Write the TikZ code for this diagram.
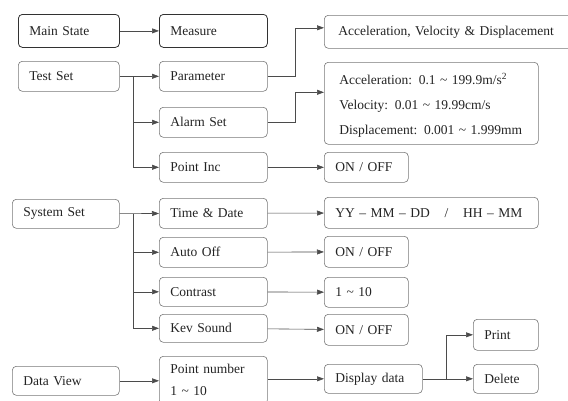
\documentclass[tikz,border=0pt]{standalone}
\usepackage{fontspec}
\setmainfont{Liberation Serif}
\usetikzlibrary{arrows.meta}
\definecolor{boxgray}{RGB}{120,120,120}
\definecolor{darkbox}{RGB}{50,50,50}
\definecolor{linegray}{RGB}{75,75,75}
\definecolor{textgray}{RGB}{35,35,35}
\tikzset{
  font=\fontsize{13.5}{16}\selectfont,
  >={Triangle[length=7pt,width=5pt]},
  menu/.style={
    draw=boxgray,
    line width=0.6pt,
    rounded corners=4pt,
    anchor=north west,
    align=left,
    inner xsep=11pt,
    inner ysep=0pt,
    text=textgray
  },
  mainmenu/.style={menu,draw=darkbox,line width=0.8pt},
  arrow/.style={->,draw=linegray,line width=0.6pt},
  link/.style={draw=linegray,line width=0.6pt}
}

\begin{document}
\begin{tikzpicture}[x=1pt,y=-1pt]
  \useasboundingbox (0,0) rectangle (568,400);

  \node[mainmenu,text width=79pt,minimum height=33pt] at (18,14) (mainstate) {Main State};
  \node[mainmenu,text width=86pt,minimum height=33pt] at (159,14) (measure) {Measure};
  \node[menu,text width=240pt,minimum height=33pt,inner xsep=14pt] at (324,15) (units) {Acceleration, Velocity \& Displacement};

  \node[menu,text width=79pt,minimum height=30pt] at (18,61) (testset) {Test Set};
  \node[menu,text width=86pt,minimum height=30pt] at (159,61) (parameter) {Parameter};
  \node[menu,text width=86pt,minimum height=30pt] at (159,107) (alarmset) {Alarm Set};
  \node[menu,text width=86pt,minimum height=30pt] at (159,152) (pointinc) {Point Inc};

  \node[menu,text width=184pt,minimum height=82pt,inner xsep=15pt,
        font=\fontsize{13.5}{25}\selectfont] at (324,62) (ranges) {
    \rule{0pt}{16pt}Acceleration: 0.1 \textasciitilde{} 199.9m/s\textsuperscript{2}\\
    Velocity: 0.01 \textasciitilde{} 19.99cm/s\\
    Displacement: 0.001 \textasciitilde{} 1.999mm
  };
  \node[menu,text width=62pt,minimum height=30pt] at (324,152) (incswitch) {ON / OFF};

  \node[menu,text width=85pt,minimum height=29pt] at (12,199) (systemset) {System Set};
  \node[menu,text width=86pt,minimum height=30pt] at (159,198) (timedate) {Time \& Date};
  \node[menu,text width=86pt,minimum height=30pt] at (159,237) (autooff) {Auto Off};
  \node[menu,text width=86pt,minimum height=29pt] at (159,277) (contrast) {Contrast};
  \node[menu,text width=86pt,minimum height=28pt] at (159,314) (keysound) {Kev Sound};

  \node[menu,text width=192pt,minimum height=31pt] at (324,197) (dateformat) {YY -- MM -- DD\hspace{1.1em}/\hspace{1.1em}HH -- MM};
  \node[menu,text width=62pt,minimum height=31pt] at (324,236) (offswitch) {ON / OFF};
  \node[menu,text width=62pt,minimum height=30pt] at (324,277) (levels) {1 \textasciitilde{} 10};
  \node[menu,text width=62pt,minimum height=31pt] at (324,314) (soundswitch) {ON / OFF};

  \node[menu,text width=85pt,minimum height=29pt] at (12,366) (dataview) {Data View};
  \node[menu,text width=86pt,minimum height=48pt,
        font=\fontsize{13.5}{22}\selectfont] at (159,356) (pointnum) {Point number\\1 \textasciitilde{} 10};
  \node[menu,text width=76pt,minimum height=29pt] at (324,364) (display) {Display data};
  \node[menu,text width=43pt,minimum height=31pt] at (473,319) (print) {Print};
  \node[menu,text width=43pt,minimum height=29pt] at (473,364) (delete) {Delete};

  \coordinate (testfork) at ([xshift=14pt]testset.east);
  \coordinate (systemfork) at ([xshift=14pt]systemset.east);
  \coordinate (displayfork) at ([xshift=24pt]display.east);

  \draw[arrow] (mainstate) -- (measure);

  \draw[arrow] (testset) -- (parameter);
  \draw[link] (testfork) -- (testfork |- pointinc.west);
  \draw[arrow] (testfork) |- (alarmset);
  \draw[arrow] (testfork) |- (pointinc);
  \draw[arrow] (parameter.east) -- ++(28,0) |- ([yshift=4pt]units.west);
  \draw[arrow] (alarmset.east) -- ++(28,0) |- ([yshift=11pt]ranges.west);
  \draw[arrow] (pointinc) -- (incswitch);

  \draw[arrow] (systemset) -- (timedate);
  \draw[link] (systemfork) -- (systemfork |- keysound.west);
  \draw[arrow] (systemfork) |- (autooff);
  \draw[arrow] (systemfork) |- (contrast);
  \draw[arrow] (systemfork) |- (keysound);
  \draw[arrow] (timedate) -- (dateformat);
  \draw[arrow] (autooff) -- (offswitch);
  \draw[arrow] (contrast) -- (levels);
  \draw[arrow] (keysound) -- (soundswitch);

  \draw[arrow] (dataview.east) -- (dataview.east -| pointnum.west);
  \draw[arrow] (pointnum.east |- display.west) -- (display.west);
  \draw[link] (display.east) -- (displayfork);
  \draw[arrow] (displayfork) |- (print);
  \draw[arrow] (displayfork) |- (delete);

\end{tikzpicture}
\end{document}
